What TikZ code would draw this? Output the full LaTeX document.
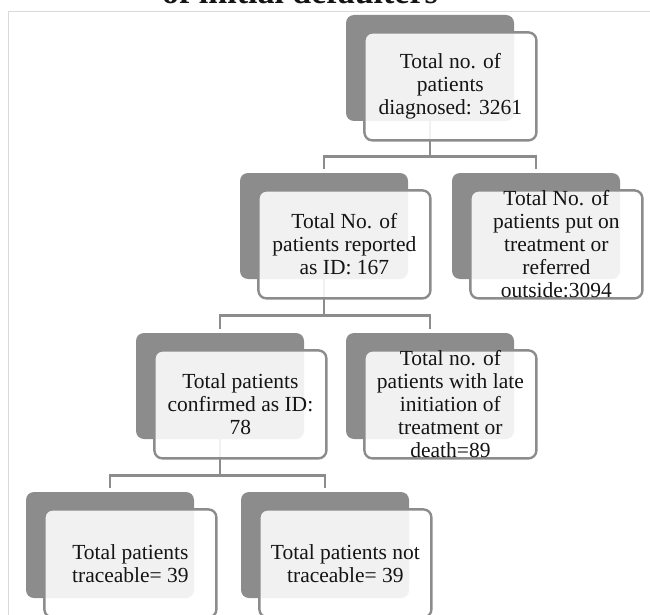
\documentclass[tikz,border=0pt]{standalone}
\usepackage{fontspec}
\setmainfont{Liberation Serif}
\usetikzlibrary{positioning}
\definecolor{mygray}{RGB}{140,140,140}
\definecolor{myframe}{RGB}{217,217,217}
\definecolor{mytext}{RGB}{20,20,20}
\tikzset{
  backbox/.style={rectangle,rounded corners=8pt,fill=mygray,minimum width=168pt,minimum height=106pt,inner sep=0pt},
  frontbox/.style={rectangle,rounded corners=8pt,draw=mygray,line width=2.4pt,fill=white,fill opacity=0.88,text opacity=1,text=mytext,minimum width=172pt,minimum height=108pt,inner sep=0pt,align=center,font=\fontsize{21.5}{23}\selectfont},
  link/.style={mygray,line width=2.6pt}
}

\begin{document}
\begin{tikzpicture}[x=1pt,y=1pt]
        \useasboundingbox (0,0) rectangle (650,-615);
        \draw[myframe,line width=1pt] (660,-12) -- (8,-12) -- (8,-625);
        \node[anchor=base,font=\fontsize{34}{36}\bfseries\selectfont,text=mytext] (title) at (300,-4) {of initial defaulters};
        \node[backbox] (diagBack) at (430,-68) {};
        \node[backbox] (reportBack) at (324,-226) {};
        \node[backbox] (treatBack) at (536,-226) {};
        \node[backbox] (confirmBack) at (220,-386) {};
        \node[backbox] (lateBack) at (430,-386) {};
        \node[backbox] (traceBack) at (110,-545) {};
        \node[backbox] (notraceBack) at (325,-545) {};
        \draw[link] (diagBack.south) -- ++(0,-35) -| ([yshift=4pt]reportBack.north);
        \draw[link] (diagBack.south) -- ++(0,-35) -| ([yshift=4pt]treatBack.north);
        \draw[link] (reportBack.south) -- ++(0,-36) -| ([yshift=4pt]confirmBack.north);
        \draw[link] (reportBack.south) -- ++(0,-36) -| ([yshift=4pt]lateBack.north);
        \draw[link] (confirmBack.south) -- ++(0,-36) -| ([yshift=4pt]traceBack.north);
        \draw[link] (confirmBack.south) -- ++(0,-36) -| ([yshift=4pt]notraceBack.north);
        \node[frontbox,below right=-90pt and -151pt of diagBack] (diag) {Total no. of\\patients\\diagnosed: 3261};
        \node[frontbox,below right=-90pt and -151pt of reportBack] (report) {Total No. of\\patients reported\\as ID: 167};
        \node[frontbox,below right=-90pt and -151pt of treatBack] (treat) {Total No. of\\patients put on\\treatment or\\referred\\outside:3094};
        \node[frontbox,below right=-90pt and -151pt of confirmBack] (confirm) {Total patients\\confirmed as ID:\\78};
        \node[frontbox,below right=-90pt and -151pt of lateBack] (late) {Total no. of\\patients with late\\initiation of\\treatment or\\death=89};
        \node[frontbox,below right=-90pt and -151pt of traceBack] (trace) {Total patients\\traceable= 39};
        \node[frontbox,below right=-90pt and -151pt of notraceBack] (notrace) {Total patients not\\traceable= 39};
    \end{tikzpicture}
\end{document}
